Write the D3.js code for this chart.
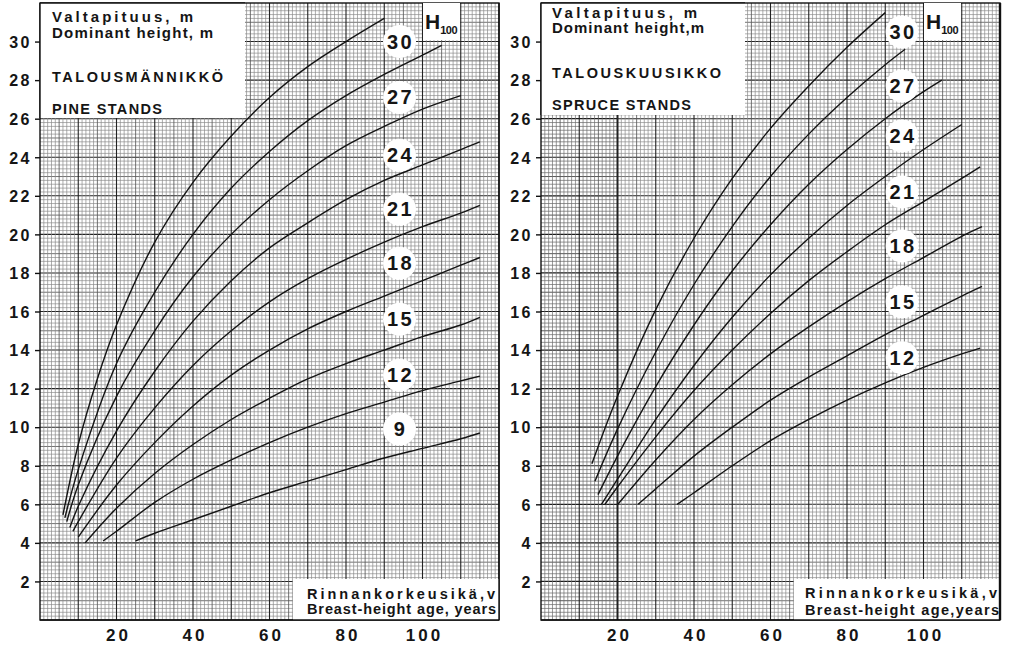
<!DOCTYPE html>
<html><head><meta charset="utf-8">
<script src="https://cdn.jsdelivr.net/npm/d3@7"></script>
<style>body{margin:0;background:#fff}svg{display:block}text{font-family:"Liberation Sans",Arial,sans-serif;font-weight:bold;fill:#151515}</style>
</head><body>
<svg id="c" width="1024" height="652"></svg>
<script>
// ---- axis ticks ----
const xTicks = [20, 40, 60, 80, 100];
const yTicks = [2, 4, 6, 8, 10, 12, 14, 16, 18, 20, 22, 24, 26, 28, 30];

// ---- pine stands curves: [breast-height age, dominant height] ----
const pineC1 = [[6.0,5.45],[10,9.1],[14.9,12.45],[20,15.3],[30,19.6],[40,22.7],[50,25.1],[60,27.1],[70,28.7],[80,30.0],[90,31.2]];
const pineC2 = [[6.5,5.3],[10,7.8],[20,13.3],[30,17.0],[40,20.0],[50,22.4],[60,24.3],[70,25.9],[80,27.2],[90,28.3],[100,29.3],[105,29.8]];
const pineC3 = [[7,5.1],[10,7.0],[20,11.6],[30,15.0],[40,17.8],[50,20.0],[60,21.8],[70,23.3],[80,24.6],[90,25.6],[100,26.5],[110,27.2]];
const pineC4 = [[7.8,4.8],[10,5.9],[20,9.8],[30,12.9],[40,15.5],[50,17.6],[60,19.3],[70,20.6],[80,21.8],[90,22.8],[100,23.6],[110,24.4],[115,24.8]];
const pineC5 = [[8.6,4.6],[10,5.1],[20,8.4],[30,11.0],[40,13.2],[50,15.0],[60,16.5],[70,17.7],[80,18.7],[90,19.6],[100,20.4],[110,21.1],[115,21.5]];
const pineC6 = [[10,4.3],[20,7.0],[30,9.2],[40,11.1],[50,12.7],[60,14.0],[70,15.1],[80,16.0],[90,16.8],[100,17.6],[110,18.4],[115,18.8]];
const pineC7 = [[11.8,4.0],[20,5.8],[30,7.6],[40,9.1],[50,10.4],[60,11.5],[70,12.5],[80,13.3],[90,14.0],[100,14.7],[110,15.3],[115,15.7]];
const pineC8 = [[16.5,4.1],[20,4.6],[30,6.1],[40,7.3],[50,8.3],[60,9.2],[70,10.0],[80,10.7],[90,11.3],[100,11.9],[110,12.4],[115,12.65]];
const pineC9 = [[25,4.1],[30,4.5],[40,5.2],[50,5.9],[60,6.6],[70,7.2],[80,7.8],[90,8.4],[100,8.9],[110,9.4],[115,9.7]];

// ---- spruce stands curves ----
const spruceC1 = [[13.3,8.1],[20,11.6],[30,16.1],[40,19.8],[50,22.9],[60,25.5],[70,27.7],[80,29.7],[90,31.5]];
const spruceC2 = [[14.1,7.2],[20,9.9],[30,13.9],[40,17.4],[50,20.4],[60,23.0],[70,25.2],[80,27.1],[90,28.8],[95.2,29.6]];
const spruceC3 = [[14.9,6.5],[20,8.5],[30,12.1],[40,15.3],[50,18.1],[60,20.5],[70,22.6],[80,24.4],[90,26.0],[100,27.4],[104.8,28.0]];
const spruceC4 = [[15.8,6.0],[20,7.3],[30,10.4],[40,13.2],[50,15.7],[60,17.9],[70,19.8],[80,21.5],[90,23.0],[100,24.4],[110,25.7]];
const spruceC5 = [[16.7,6.0],[20,6.9],[30,9.5],[40,11.9],[50,14.0],[60,15.9],[70,17.6],[80,19.1],[90,20.5],[100,21.7],[110,22.9],[114.8,23.5]];
const spruceC6 = [[20.1,6.0],[30,8.3],[40,10.4],[50,12.2],[60,13.8],[70,15.2],[80,16.5],[90,17.7],[100,18.8],[110,19.9],[115.3,20.4]];
const spruceC7 = [[25.4,6.0],[30,6.8],[40,8.5],[50,10.0],[60,11.4],[70,12.6],[80,13.7],[90,14.8],[100,15.8],[110,16.8],[115.3,17.3]];
const spruceC8 = [[35.6,6.0],[40,6.6],[50,8.0],[60,9.3],[70,10.4],[80,11.4],[90,12.3],[100,13.1],[110,13.8],[114.8,14.1]];

// ---- H100 class labels ----
const pineLabels = ["30","27","24","21","18","15","12","9"];
const pineLabelH = [30.0, 27.1, 24.1, 21.3, 18.5, 15.6, 12.7, 9.9];
const pineLabelAge = 94;
const spruceLabels = ["30","27","24","21","18","15","12"];
const spruceLabelH = [30.5, 27.7, 25.1, 22.2, 19.4, 16.5, 13.6];
const spruceLabelAge = 94.4;

// ---- texts ----
const pineTitle = ["Valtapituus, m", "Dominant height, m", "TALOUSMÄNNIKKÖ", "PINE STANDS"];
const spruceTitle = ["Valtapituus, m", "Dominant height,m", "TALOUSKUUSIKKO", "SPRUCE STANDS"];
const pineXTitle = ["Rinnankorkeusikä,v", "Breast-height  age, years"];
const spruceXTitle = ["Rinnankorkeusikä,v", "Breast-height  age,years"];

const svg = d3.select("#c");

function drawPanel(cfg) {
  const x = d3.scaleLinear([0, 120], [cfg.x0, cfg.x1]);
  const y = d3.scaleLinear([0, 32], [620, 3]);
  const g = svg.append("g");

  // grid paper
  const fineCol = a => (cfg.darkLeft && a < 20) ? "#6e6e6e" : "#8a8a8a";
  const grid = g.append("g");
  d3.range(1, 160).forEach(i => {
    const v = i / 5;
    const cls = i % 10 === 0 ? 2 : (i % 5 === 0 ? 1 : 0);
    if (cfg.darkLeft) {
      grid.append("line").attr("x1", x(0)).attr("x2", x(20)).attr("y1", y(v)).attr("y2", y(v))
        .attr("stroke", ["#707070", "#444", "#1a1a1a"][cls]).attr("stroke-width", [0.75, 0.9, 1.2][cls]);
    }
    grid.append("line").attr("x1", x(cfg.darkLeft ? 20 : 0)).attr("x2", x(120)).attr("y1", y(v)).attr("y2", y(v))
      .attr("stroke", ["#8e8e8e", "#5a5a5a", "#222"][cls])
      .attr("stroke-width", [0.7, 0.85, 1.1][cls]);
  });
  d3.range(1, 120).forEach(a => {
    const cls = a % 10 === 0 ? 2 : (a % 5 === 0 ? 1 : 0);
    grid.append("line").attr("x1", x(a)).attr("x2", x(a)).attr("y1", y(0)).attr("y2", y(32))
      .attr("stroke", [fineCol(a), "#5a5a5a", "#222"][cls])
      .attr("stroke-width", [0.7, 0.85, (cfg.darkLeft && a === 20) ? 2 : 1.1][cls]);
  });

  // frame
  g.append("rect").attr("x", x(0)).attr("y", y(32)).attr("width", x(120) - x(0)).attr("height", y(0) - y(32))
    .attr("fill", "none").attr("stroke", "#111").attr("stroke-width", 1.4);

  // curves
  const line = d3.line().x(d => x(d[0])).y(d => y(d[1])).curve(d3.curveCatmullRom.alpha(0.5));
  g.append("g").selectAll("path").data(cfg.curves).join("path")
    .attr("d", line).attr("fill", "none").attr("stroke", "#141414").attr("stroke-width", 1.4);

  // title box
  const tb = cfg.titleBox;
  g.append("rect").attr("x", x(0)).attr("y", y(32)).attr("width", tb.w).attr("height", tb.h)
    .attr("fill", "#fff").attr("stroke", "none");
  g.append("line").attr("x1", x(0)).attr("x2", x(0) + tb.w).attr("y1", y(32)).attr("y2", y(32)).attr("stroke", "#111").attr("stroke-width", 1.4);
  g.append("line").attr("x1", x(0)).attr("x2", x(0)).attr("y1", y(32)).attr("y2", y(32) + tb.h).attr("stroke", "#111").attr("stroke-width", 1.4);
  cfg.title.forEach((t, i) => {
    g.append("text").attr("x", x(0) + tb.tx).attr("y", tb.base[i]).attr("font-size", i < 2 ? 15 : 14.5)
      .attr("textLength", tb.len[i]).attr("lengthAdjust", "spacing").text(t);
  });

  // H100 box
  const hb = cfg.hBox;
  g.append("rect").attr("x", hb.x).attr("y", y(32)).attr("width", 37).attr("height", 37).attr("fill", "#fff");
  const ht = g.append("text").attr("x", hb.x + 2).attr("y", y(32) + 26).attr("font-size", 21);
  ht.append("tspan").text("H");
  ht.append("tspan").attr("font-size", 11).attr("dy", 5).attr("letter-spacing", -0.5).text("100");

  // bottom-right box
  const bb = cfg.botBox;
  g.append("rect").attr("x", bb.x).attr("y", bb.y).attr("width", x(120) - bb.x).attr("height", y(0) - bb.y).attr("fill", "#fff");
  cfg.xTitle.forEach((t, i) => {
    g.append("text").attr("x", bb.tx).attr("y", bb.base[i]).attr("font-size", 14.5)
      .attr("textLength", bb.len[i]).attr("lengthAdjust", "spacing").text(t);
  });
  g.append("line").attr("x1", x(120)).attr("x2", x(120)).attr("y1", y(32)).attr("y2", y(0)).attr("stroke", "#111").attr("stroke-width", cfg.thickRight ? 2.4 : 1.4);
  g.append("line").attr("x1", x(0)).attr("x2", x(120)).attr("y1", y(0)).attr("y2", y(0)).attr("stroke", "#111").attr("stroke-width", 1.4);

  // class labels
  const lg = g.append("g").selectAll("g").data(cfg.labels).join("g")
    .attr("transform", (d, i) => `translate(${x(cfg.labelAge)},${y(cfg.labelH[i])})`);
  lg.append("circle").attr("r", 16.5).attr("fill", "#fff");
  lg.append("text").attr("text-anchor", "middle").attr("dy", 7).attr("font-size", 20)
    .attr("letter-spacing", 2.5).attr("dx", 1).text(d => d);

  // y axis
  const ya = g.append("g").attr("transform", `translate(${x(0)},0)`)
    .call(d3.axisLeft(y).tickValues(yTicks).tickSize(5).tickPadding(3).tickFormat(d => d));
  ya.select(".domain").remove();
  ya.selectAll("line").attr("stroke", "#111").attr("stroke-width", 1.4);
  ya.selectAll("text").attr("font-size", 16).attr("letter-spacing", 2.5).attr("fill", "#151515")
    .attr("font-family", '"Liberation Sans",Arial,sans-serif').attr("font-weight", "bold").attr("dy", "0.36em");

  // x axis
  const xa = g.append("g").attr("transform", `translate(0,${y(0)})`)
    .call(d3.axisBottom(x).tickValues(xTicks).tickSize(0).tickPadding(9).tickFormat(d => d));
  xa.select(".domain").remove();
  xa.selectAll("text").attr("font-size", 17).attr("letter-spacing", 3).attr("dx", 1.5).attr("fill", "#151515")
    .attr("font-family", '"Liberation Sans",Arial,sans-serif').attr("font-weight", "bold");
}

drawPanel({
  x0: 40, x1: 499,
  curves: [pineC1, pineC2, pineC3, pineC4, pineC5, pineC6, pineC7, pineC8, pineC9],
  labels: pineLabels, labelH: pineLabelH, labelAge: pineLabelAge,
  title: pineTitle,
  titleBox: {w: 205, h: 115, tx: 12, base: [22, 38, 82, 114], len: [141, 161, 171, 110]},
  hBox: {x: 423},
  botBox: {x: 293, y: 579, tx: 307, base: [599, 614], len: [188, 189]},
  xTitle: pineXTitle
});
drawPanel({
  x0: 541, x1: 1000, thickRight: true, darkLeft: true,
  curves: [spruceC1, spruceC2, spruceC3, spruceC4, spruceC5, spruceC6, spruceC7, spruceC8],
  labels: spruceLabels, labelH: spruceLabelH, labelAge: spruceLabelAge,
  title: spruceTitle,
  titleBox: {w: 204, h: 112, tx: 11, base: [18, 33, 78, 110], len: [145, 152, 169, 139]},
  hBox: {x: 924},
  botBox: {x: 794, y: 579, tx: 805, base: [598, 615], len: [192, 194]},
  xTitle: spruceXTitle
});
</script>
</body></html>
